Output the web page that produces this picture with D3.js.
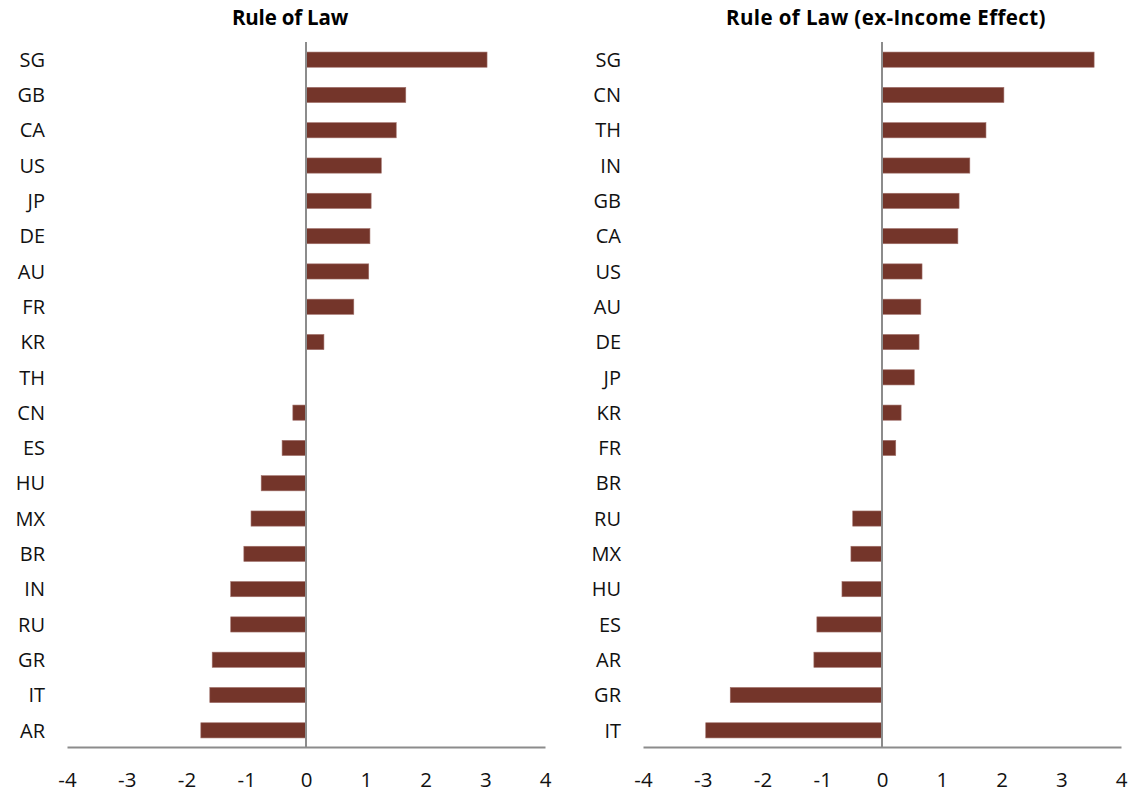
<!DOCTYPE html>
<html><head><meta charset="utf-8">
<script src="https://cdn.jsdelivr.net/npm/d3@7"></script>
<style>body{margin:0;background:#fff}svg{display:block}</style>
</head><body><svg id="c" width="1131" height="795"></svg>
<script>
const leftTitle = "Rule of Law";
const leftCats = ["SG","GB","CA","US","JP","DE","AU","FR","KR","TH","CN","ES","HU","MX","BR","IN","RU","GR","IT","AR"];
const leftVals = [3.03,1.67,1.51,1.26,1.09,1.07,1.05,0.80,0.30,0.0,-0.22,-0.40,-0.75,-0.92,-1.04,-1.26,-1.26,-1.57,-1.61,-1.76];
const rightTitle = "Rule of Law (ex-Income Effect)";
const rightCats = ["SG","CN","TH","IN","GB","CA","US","AU","DE","JP","KR","FR","BR","RU","MX","HU","ES","AR","GR","IT"];
const rightVals = [3.55,2.04,1.74,1.47,1.29,1.27,0.67,0.65,0.62,0.54,0.32,0.23,0.0,-0.49,-0.52,-0.67,-1.09,-1.14,-2.54,-2.95];
const tickVals = [-4,-3,-2,-1,0,1,2,3,4];

const svg = d3.select("#c");
const font = "'Open Sans', sans-serif";
const barColor = "#74352a";
const axisColor = "#8c8c8c";

function panel(title, cats, vals, x0, x1, labelX, titleX, titleSpacing) {
  const x = d3.scaleLinear().domain([-4,4]).range([x0,x1]);
  const y = d3.scaleBand().domain(cats).range([42,748]).paddingInner(0.57).paddingOuter(0.285);
  const g = svg.append("g");
  g.append("text").attr("x", titleX).attr("y", 25).attr("text-anchor","middle")
    .attr("font-family", font).attr("font-weight","bold").attr("font-size",20.5)
    .attr("letter-spacing", titleSpacing).attr("fill","#000").text(title);
  g.selectAll("rect.bar").data(cats).join("rect").attr("class","bar")
    .attr("x", (d,i)=> Math.min(x(0), x(vals[i])))
    .attr("width", (d,i)=> Math.abs(x(vals[i]) - x(0)))
    .attr("y", d=> y(d)).attr("height", y.bandwidth())
    .attr("fill", barColor).attr("stroke","#a0706a").attr("stroke-width",0.6);
  g.selectAll("text.cat").data(cats).join("text").attr("class","cat")
    .attr("x", labelX).attr("y", d=> y(d)+y.bandwidth()/2).attr("dy","0.36em")
    .attr("text-anchor","end").attr("font-family",font).attr("font-size",20)
    .attr("fill","#111").text(d=>d);
  g.append("line").attr("x1", x(0)).attr("x2", x(0)).attr("y1", 42).attr("y2", 747)
    .attr("stroke", axisColor).attr("stroke-width", 2);
  const ax = d3.axisBottom(x).tickValues(tickVals).tickSize(0).tickPadding(25).tickFormat(d=>String(d));
  const ag = g.append("g").attr("transform", `translate(0,747)`).call(ax);
  ag.select(".domain").attr("stroke", axisColor).attr("stroke-width", 2);
  ag.selectAll("text").attr("font-family", font).attr("font-size", 20.5).attr("fill","#111");
}
panel(leftTitle, leftCats, leftVals, 67, 545, 45, 290, -0.2);
panel(rightTitle, rightCats, rightVals, 643, 1121, 621, 886, 0.4);
</script></body></html>
